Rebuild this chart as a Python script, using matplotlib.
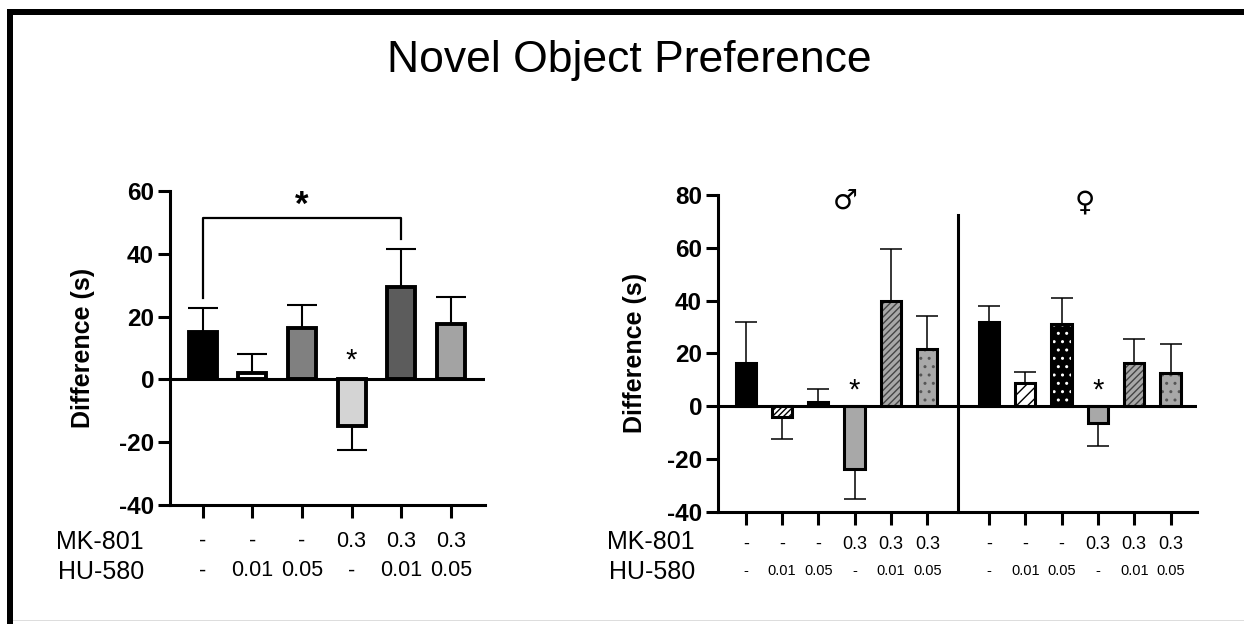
import matplotlib
matplotlib.use('Agg')
import matplotlib.pyplot as plt
from matplotlib.patches import Rectangle
import numpy as np

plt.rcParams['font.family'] = ['Liberation Sans', 'DejaVu Sans']
plt.rcParams['hatch.linewidth'] = 1.0
plt.rcParams['axes.unicode_minus'] = False

# data
groups = ['veh', 'HU 0.01', 'HU 0.05', 'MK 0.3', 'MK+HU 0.01', 'MK+HU 0.05']
mk_labels = ['-', '-', '-', '0.3', '0.3', '0.3']
hu_labels = ['-', '0.01', '0.05', '-', '0.01', '0.05']

all_means = [15.2, 2.1, 16.5, -14.9, 29.5, 17.5]
all_err = [7.6, 5.9, 7.2, 7.7, 12.1, 8.7]

male_means = [16.4, -4.0, 1.5, -23.7, 40.0, 21.7]
male_err = [15.6, 8.3, 5.1, 11.3, 19.7, 12.6]
female_means = [32.0, 8.9, 31.3, -6.3, 16.4, 12.4]
female_err = [5.9, 4.0, 9.5, 8.8, 8.9, 11.3]

# styles
left_colors = ['#000000', '#ffffff', '#808080', '#d4d4d4', '#5c5c5c', '#a3a3a3']
sex_faces = ['#000000', '#ffffff', '#000000', '#a8a8a8', '#a8a8a8', '#a8a8a8']
sex_hatch = [None, '//////', '..', None, '/////', '..']
sex_hcolor = ['k', 'k', 'w', 'k', '#444444', '#555555']
female_hatch = [None, '///', '..', None, '/////', '..']

W, H = 1244, 624
fig = plt.figure(figsize=(W / 100, H / 100), dpi=100)

# frame around the image
fig.add_artist(Rectangle((7 / W, 1 - 15 / H), 1, 6 / H, transform=fig.transFigure,
                         color='k', lw=0))
fig.add_artist(Rectangle((7 / W, 0), 6 / W, 1 - 9 / H, transform=fig.transFigure,
                         color='k', lw=0))
fig.add_artist(Rectangle((13 / W, 3 / H), 1, 1.5 / H, transform=fig.transFigure,
                         color='#dddddd', lw=0))

fig.text(629 / W, 1 - 72 / H, 'Novel Object Preference', ha='center', va='baseline',
         fontsize=32)


def style_axes(ax, lw):
    for s in ['top', 'right']:
        ax.spines[s].set_visible(False)
    for s in ['left', 'bottom']:
        ax.spines[s].set_linewidth(lw)
    ax.tick_params(axis='y', length=8.5, width=lw, labelsize=17.5, pad=3)
    ax.tick_params(axis='x', length=9, width=lw, labelbottom=False)
    for t in ax.get_yticklabels():
        t.set_fontweight('bold')
    ax.axhline(0, color='k', lw=lw, zorder=5)


def draw_bars(ax, x, means, errs, faces, hatches, hcolors, width, lw, elw, cap):
    lower = [e if m < 0 else 0 for m, e in zip(means, errs)]
    upper = [0 if m < 0 else e for m, e in zip(means, errs)]
    ax.errorbar(x, means, yerr=[lower, upper], fmt='none', ecolor='k',
                elinewidth=elw, capsize=cap, capthick=elw, zorder=2)
    for xi, m, fc, h, hc in zip(x, means, faces, hatches, hcolors):
        ax.bar(xi, m, width=width, color=fc, edgecolor=hc, hatch=h, lw=0, zorder=3)
        ax.bar(xi, m, width=width, fill=False, edgecolor='k', lw=lw, zorder=4)


def row_labels(ax, x, y_mk, y_hu, fs_mk, fs_hu):
    tr = ax.get_xaxis_transform()
    for xi, a, b in zip(x, mk_labels, hu_labels):
        ax.text(xi, y_mk, a, transform=tr, ha='center', va='center', fontsize=fs_mk)
        ax.text(xi, y_hu, b, transform=tr, ha='center', va='center', fontsize=fs_hu)


# ---- left panel: all animals
ax1 = fig.add_axes([170 / W, 1 - 505 / H, 315 / W, 314 / H])
x1 = np.arange(len(groups))
draw_bars(ax1, x1, all_means, all_err, left_colors, [None] * 6, ['k'] * 6,
          0.565, 2.8, 1.5, 10.5)
ax1.set_xlim(-0.66, 5.69)
ax1.set_ylim(-40, 60)
ax1.set_yticks([-40, -20, 0, 20, 40, 60])
ax1.set_xticks(x1)
style_axes(ax1, 2.2)
ax1.set_ylabel('Difference (s)', fontsize=18, fontweight='bold')
ax1.yaxis.set_label_coords(-0.238, 0.5)
row_labels(ax1, x1, -0.116, -0.21, 15.5, 15.5)

# significance bracket
ax1.plot([0, 0, 4, 4], [26, 51.5, 51.5, 44.6], color='k', lw=1.6, zorder=2)
ax1.text(2, 55.5, '*', ha='center', va='center', fontsize=25, fontweight='bold')
ax1.text(3, 6, '*', ha='center', va='center', fontsize=21)

# ---- right panel: split by sex
ax2 = fig.add_axes([718 / W, 1 - 511.7 / H, 478.7 / W, 316.7 / H])
xm = np.arange(6)
xf = np.arange(6) + 6.7
draw_bars(ax2, xm, male_means, male_err, sex_faces, sex_hatch, sex_hcolor,
          0.56, 2.2, 1.1, 8)
draw_bars(ax2, xf, female_means, female_err, sex_faces, female_hatch, sex_hcolor,
          0.56, 2.2, 1.1, 8)
ax2.set_xlim(-0.763, 12.42)
ax2.set_ylim(-40, 80)
ax2.set_yticks([-40, -20, 0, 20, 40, 60, 80])
ax2.set_xticks(np.concatenate([xm, xf]))
style_axes(ax2, 2.2)
ax2.set_ylabel('Difference (s)', fontsize=18, fontweight='bold')
ax2.yaxis.set_label_coords(-0.148, 0.5)
ax2.plot([5.85, 5.85], [-40, 72.6], color='k', lw=2.2, clip_on=False, zorder=5)
row_labels(ax2, xm, -0.102, -0.187, 13, 10.5)
row_labels(ax2, xf, -0.102, -0.187, 13, 10.5)

ax2.text(2.74, 78, '\u2642', ha='center', va='center', fontsize=20,
         family='DejaVu Sans')
ax2.text(9.35, 77, '\u2640', ha='center', va='center', fontsize=20,
         family='DejaVu Sans')
ax2.text(3, 6, '*', ha='center', va='center', fontsize=21)
ax2.text(9.7, 6, '*', ha='center', va='center', fontsize=21)

# treatment row names
for xpx in (144, 695):
    fig.text(xpx / W, 1 - 542 / H, 'MK-801', ha='right', va='center', fontsize=18)
    fig.text(xpx / W, 1 - 572 / H, 'HU-580', ha='right', va='center', fontsize=18)

fig.savefig('out.png', dpi=100)
